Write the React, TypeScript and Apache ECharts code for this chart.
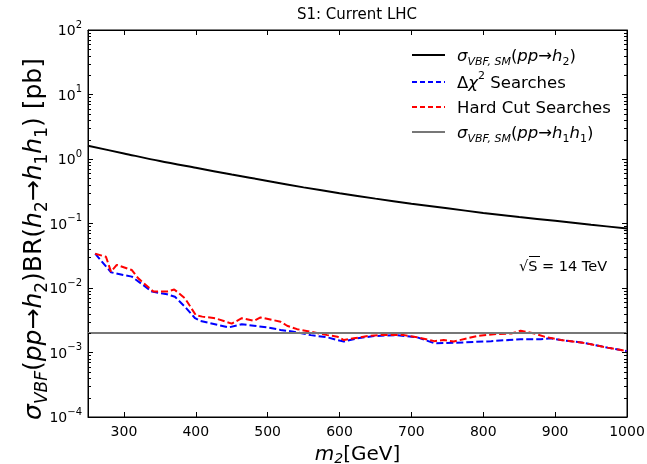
import React, { useEffect, useRef } from "react";
import * as echarts from "echarts";

// sigma_VBF,SM(pp -> h2)
const massSM = [250, 300, 350, 400, 450, 500, 550, 600, 650, 700, 750, 800, 850, 900, 950, 1000];
const sigmaH2 = [1.6, 1.22, 0.93, 0.73, 0.575, 0.457, 0.363, 0.295, 0.243, 0.202, 0.172, 0.146, 0.126, 0.11, 0.0955, 0.084];

// Delta chi^2 searches
const chiMass = [260, 282, 299, 311, 339, 360, 371, 385, 399, 406, 446, 464, 499, 518, 536, 560, 583, 597, 606, 625, 648, 680, 708, 732, 773, 811, 852, 880, 894, 908, 936, 950, 973, 1000];
const chiLimit = [0.034, 0.0175, 0.0159, 0.015, 0.0088, 0.008, 0.0073, 0.0051, 0.0034, 0.0031, 0.00245, 0.00274, 0.00245, 0.00224, 0.0021, 0.00186, 0.00172, 0.00156, 0.00148, 0.00166, 0.0018, 0.00186, 0.00172, 0.00139, 0.00143, 0.0015, 0.00161, 0.00161, 0.00166, 0.00156, 0.00143, 0.00134, 0.00119, 0.00105];

// Hard cut searches
const cutMass = [260, 275, 282, 290, 311, 320, 341, 360, 370, 385, 400, 409, 427, 450, 464, 481, 490, 518, 527, 541, 560, 583, 597, 606, 620, 639, 657, 690, 708, 732, 745, 759, 778, 792, 820, 839, 852, 871, 885, 908, 936, 950, 973, 1000];
const cutLimit = [0.034, 0.0305, 0.0179, 0.0228, 0.019, 0.0141, 0.0088, 0.0088, 0.0095, 0.0069, 0.0038, 0.0036, 0.0034, 0.0028, 0.0034, 0.0031, 0.0035, 0.003, 0.0026, 0.0023, 0.0021, 0.00186, 0.00176, 0.00156, 0.00166, 0.0018, 0.00186, 0.00186, 0.00172, 0.0015, 0.00156, 0.00148, 0.00166, 0.00181, 0.00194, 0.00197, 0.00218, 0.00197, 0.00176, 0.00156, 0.00143, 0.00134, 0.00119, 0.00105];

// sigma_VBF,SM(pp -> h1 h1)
const hhMass = [250, 1000];
const hhLevel = [0.002, 0.002];

const X_MIN = 250;
const X_MAX = 1000;
const xTicks = [300, 400, 500, 600, 700, 800, 900, 1000];
const yMinorFactors = [2, 3, 4, 5, 6, 7, 8, 9];
const yDecades = [-4, -3, -2, -1, 0, 1];
const Y_MIN = 1e-4;
const Y_MAX = 1e2;

const FONT = "DejaVu Sans";

const pairs = (xs: number[], ys: number[]) => xs.map((x, i) => [x, ys[i]]);

const subRich = (size: number, lh: number) => ({
  n: { fontFamily: FONT, fontSize: size, lineHeight: lh, verticalAlign: "middle", color: "#000" },
  i: { fontFamily: FONT, fontSize: size, fontStyle: "italic", lineHeight: lh, verticalAlign: "middle", color: "#000" },
  sb: { fontFamily: FONT, fontSize: Math.round(size * 0.68), fontStyle: "italic", lineHeight: Math.round(lh * 0.58), verticalAlign: "bottom", color: "#000" },
  sn: { fontFamily: FONT, fontSize: Math.round(size * 0.68), lineHeight: Math.round(lh * 0.58), verticalAlign: "bottom", color: "#000" },
  sp: { fontFamily: FONT, fontSize: Math.round(size * 0.68), lineHeight: Math.round(lh * 0.5), verticalAlign: "top", color: "#000" },
});

export default function App() {
  const ref = useRef<HTMLDivElement>(null);

  useEffect(() => {
    const chart = echarts.init(ref.current!, null, { renderer: "svg" });

    const yLabelRich = {
      b: { fontFamily: FONT, fontSize: 14, lineHeight: 22, verticalAlign: "middle", color: "#000" },
      s: { fontFamily: FONT, fontSize: 10, lineHeight: 11, verticalAlign: "top", color: "#000" },
    };

    const commonY = {
      type: "log" as const,
      logBase: 10,
      min: Y_MIN,
      max: Y_MAX,
      splitNumber: 6,
      splitLine: { show: false },
      axisLine: { show: true, lineStyle: { color: "#000", width: 1 } },
      axisTick: { show: true, inside: true, length: 5, lineStyle: { color: "#000", width: 1 } },
    };

    const minorVals: number[][] = [];
    yDecades.forEach((e) => yMinorFactors.forEach((k) => minorVals.push([X_MIN, k * Math.pow(10, e)])));

    const lr = subRich(16.5, 24);
    const legendRows = [
      { text: "{i|\u03c3}{sb|VBF, SM}{n|(}{i|pp}{n|\u2192}{i|h}{sn|2}{n|)}", color: "#000", dash: null as any },
      { text: "{n|\u0394}{i|\u03c7}{sp|2}{n| Searches}", color: "#0000ff", dash: [5, 3] },
      { text: "{n|Hard Cut Searches}", color: "#ff0000", dash: [5, 3] },
      { text: "{i|\u03c3}{sb|VBF, SM}{n|(}{i|pp}{n|\u2192}{i|h}{sn|1}{i|h}{sn|1}{n|)}", color: "#777777", dash: null as any },
    ];
    const legendY = [55, 82, 107, 132];
    const legendGraphics: any[] = [];
    legendRows.forEach((r, i) => {
      legendGraphics.push({
        type: "line",
        silent: true,
        shape: { x1: 412, y1: legendY[i], x2: 445, y2: legendY[i] },
        style: { stroke: r.color, lineWidth: 2, lineDash: r.dash || undefined },
        z: 100,
      });
      legendGraphics.push({
        type: "text",
        silent: true,
        x: 457,
        y: legendY[i],
        style: { text: r.text, rich: lr, verticalAlign: "middle", align: "left" },
        z: 100,
      });
    });

    const yr = subRich(25, 35);
    const others: any[] = [
      {
        type: "text",
        x: 357,
        y: 14,
        style: { text: "S1: Current LHC", fontFamily: FONT, fontSize: 15, fill: "#000", align: "center", verticalAlign: "middle" },
      },
      {
        type: "text",
        x: 32,
        y: 239,
        rotation: Math.PI / 2,
        style: {
          text: "{i|\u03c3}{sb|VBF}{n|(}{i|pp}{n|\u2192}{i|h}{sn|2}{n|)BR(}{i|h}{sn|2}{n|\u2192}{i|h}{sn|1}{i|h}{sn|1}{n|) [pb]}",
          rich: yr,
          align: "center",
          verticalAlign: "middle",
        },
      },
      {
        type: "text",
        x: 519,
        y: 266,
        style: { text: "\u221aS = 14 TeV", fontFamily: FONT, fontSize: 14.5, fill: "#000", align: "left", verticalAlign: "middle" },
      },
      {
        type: "line",
        shape: { x1: 529, y1: 256.5, x2: 540, y2: 256.5 },
        style: { stroke: "#000", lineWidth: 1 },
      },
    ];

    const option: any = {
      animation: false,
      grid: {
        left: 88, right: 20, top: 30, bottom: 47,
        show: true, borderColor: "#000", borderWidth: 1,
        containLabel: false, outerBoundsMode: "none",
      },
      graphic: { elements: [...others, ...legendGraphics] },
      xAxis: [
        {
          type: "value",
          min: X_MIN,
          max: X_MAX,
          splitLine: { show: false },
          axisLine: { show: true, onZero: false, lineStyle: { color: "#000", width: 1 } },
          axisTick: { show: true, inside: true, length: 5, customValues: xTicks, lineStyle: { color: "#000" } },
          axisLabel: { customValues: xTicks, color: "#000", fontFamily: FONT, fontSize: 14, margin: 7, formatter: (v: number) => String(v) },
          name: "{i|m}{sb|2}{n|[GeV]}",
          nameLocation: "middle",
          nameGap: 18,
          nameTextStyle: { rich: subRich(20, 24) },
        },
        {
          type: "value",
          position: "top",
          min: X_MIN,
          max: X_MAX,
          splitLine: { show: false },
          axisLine: { show: true, onZero: false, lineStyle: { color: "#000", width: 1 } },
          axisTick: { show: true, inside: true, length: 5, customValues: xTicks, lineStyle: { color: "#000" } },
          axisLabel: { show: false },
        },
      ],
      yAxis: [
        {
          ...commonY,
          position: "left",
          axisLabel: {
            color: "#000",
            margin: 6,
            formatter: (v: number) => {
              const e = Math.round(Math.log10(v));
              return `{b|10}{s|${e < 0 ? "\u2212" + -e : e}}`;
            },
            rich: yLabelRich,
          },
        },
        {
          ...commonY,
          position: "right",
          axisLabel: { show: false },
        },
      ],
      series: [
        {
          type: "line",
          data: pairs(massSM, sigmaH2),
          showSymbol: false,
          symbol: "none",
          smooth: 0.3,
          lineStyle: { color: "#000", width: 2 },
          z: 2,
        },
        {
          type: "line",
          data: pairs(chiMass, chiLimit),
          showSymbol: false,
          symbol: "none",
          lineStyle: { color: "#0000ff", width: 2, type: [7, 3] },
          z: 3,
        },
        {
          type: "line",
          data: pairs(cutMass, cutLimit),
          showSymbol: false,
          symbol: "none",
          lineStyle: { color: "#ff0000", width: 2, type: [7, 3] },
          z: 4,
        },
        {
          type: "line",
          data: pairs(hhMass, hhLevel),
          showSymbol: false,
          symbol: "none",
          lineStyle: { color: "#777777", width: 2 },
          z: 5,
        },
        {
          type: "custom",
          silent: true,
          clip: false,
          z: 10,
          data: minorVals,
          encode: { x: 0, y: 1 },
          renderItem: (params: any, api: any) => {
            const v = api.value(1);
            const p = api.coord([X_MIN, v]);
            const q = api.coord([X_MAX, v]);
            const y = Math.round(p[1]) + 0.5;
            return {
              type: "group",
              children: [
                { type: "rect", shape: { x: p[0], y: y - 0.5, width: 3, height: 1 }, style: { fill: "#000" } },
                { type: "rect", shape: { x: q[0] - 3, y: y - 0.5, width: 3, height: 1 }, style: { fill: "#000" } },
              ],
            };
          },
        },
      ],
    };

    chart.setOption(option);

    return () => chart.dispose();
  }, []);

  return <div ref={ref} style={{ position: "fixed", left: 0, top: 0, width: 647, height: 464 }} />;
}
